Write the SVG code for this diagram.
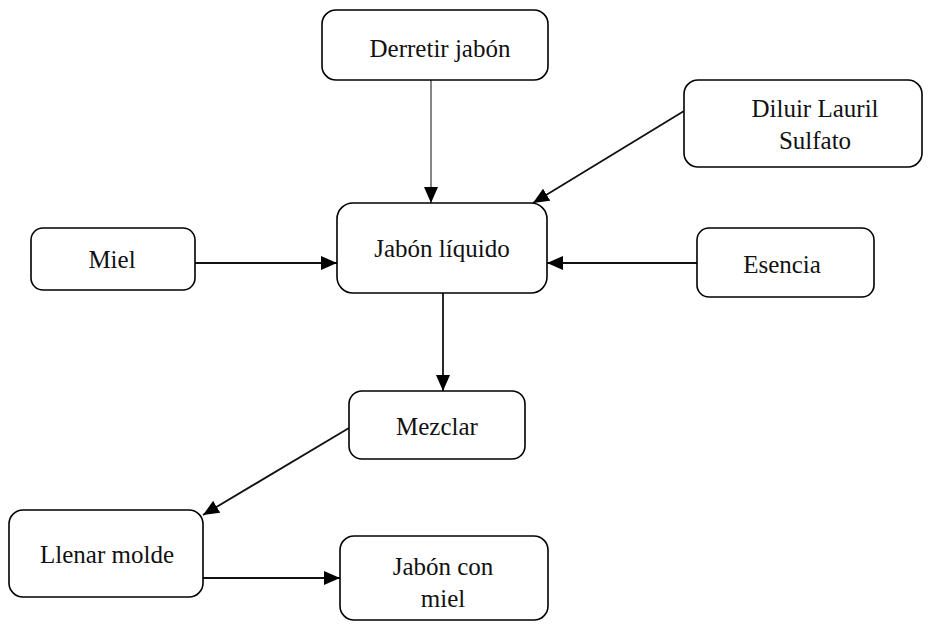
<svg xmlns="http://www.w3.org/2000/svg" width="934" height="624" viewBox="0 0 934 624">
<defs>
<marker id="ah" viewBox="0 0 16 14" refX="16" refY="7" markerWidth="16" markerHeight="14" markerUnits="userSpaceOnUse" orient="auto">
<path d="M0,0 L16,7 L0,14 Z" fill="#000"/>
</marker>
</defs>
<style>
.box{fill:#fff;stroke:#000;stroke-width:1.6}
.lbl{font-size:25px;fill:#111;text-anchor:middle}
.con{fill:none;stroke:#111;stroke-width:1.8;marker-end:url(#ah)}
.thin{stroke:#444;stroke-width:1.3}
</style>
<rect width="934" height="624" fill="#fff"/>
<g id="connectors">
<line class="con thin" x1="431" y1="80" x2="431" y2="203"/>
<line class="con" x1="684" y1="111" x2="533" y2="203"/>
<line class="con" x1="195" y1="263" x2="337" y2="263"/>
<line class="con" x1="697" y1="263" x2="547" y2="263"/>
<line class="con" x1="443" y1="293" x2="443" y2="391"/>
<line class="con" x1="349" y1="428" x2="203" y2="515"/>
<line class="con" x1="203" y1="578" x2="340" y2="578"/>
</g>
<g font-family="Liberation Serif, Times New Roman, DejaVu Serif, serif">
<g id="derretir">
<rect class="box" x="322" y="10" width="226" height="70" rx="14"/>
<text class="lbl" x="440" y="57">Derretir jabón</text>
</g>
<g id="diluir">
<rect class="box" x="684" y="80" width="238" height="87" rx="14"/>
<text class="lbl" x="815" y="117">Diluir Lauril</text>
<text class="lbl" x="815" y="149">Sulfato</text>
</g>
<g id="jabon-liquido">
<rect class="box" x="337" y="203" width="210" height="90" rx="16"/>
<text class="lbl" x="442" y="257">Jabón líquido</text>
</g>
<g id="miel">
<rect class="box" x="31" y="228" width="164" height="62" rx="12"/>
<text class="lbl" x="112" y="268">Miel</text>
</g>
<g id="esencia">
<rect class="box" x="697" y="228" width="177" height="69" rx="12"/>
<text class="lbl" x="782" y="273">Esencia</text>
</g>
<g id="mezclar">
<rect class="box" x="349" y="391" width="176" height="68" rx="13"/>
<text class="lbl" x="437" y="435">Mezclar</text>
</g>
<g id="llenar">
<rect class="box" x="9" y="510" width="194" height="87" rx="14"/>
<text class="lbl" x="107" y="563">Llenar molde</text>
</g>
<g id="jabon-miel">
<rect class="box" x="340" y="536" width="208" height="84" rx="14"/>
<text class="lbl" x="443" y="575">Jabón con</text>
<text class="lbl" x="443" y="607">miel</text>
</g>
</g>
</svg>
